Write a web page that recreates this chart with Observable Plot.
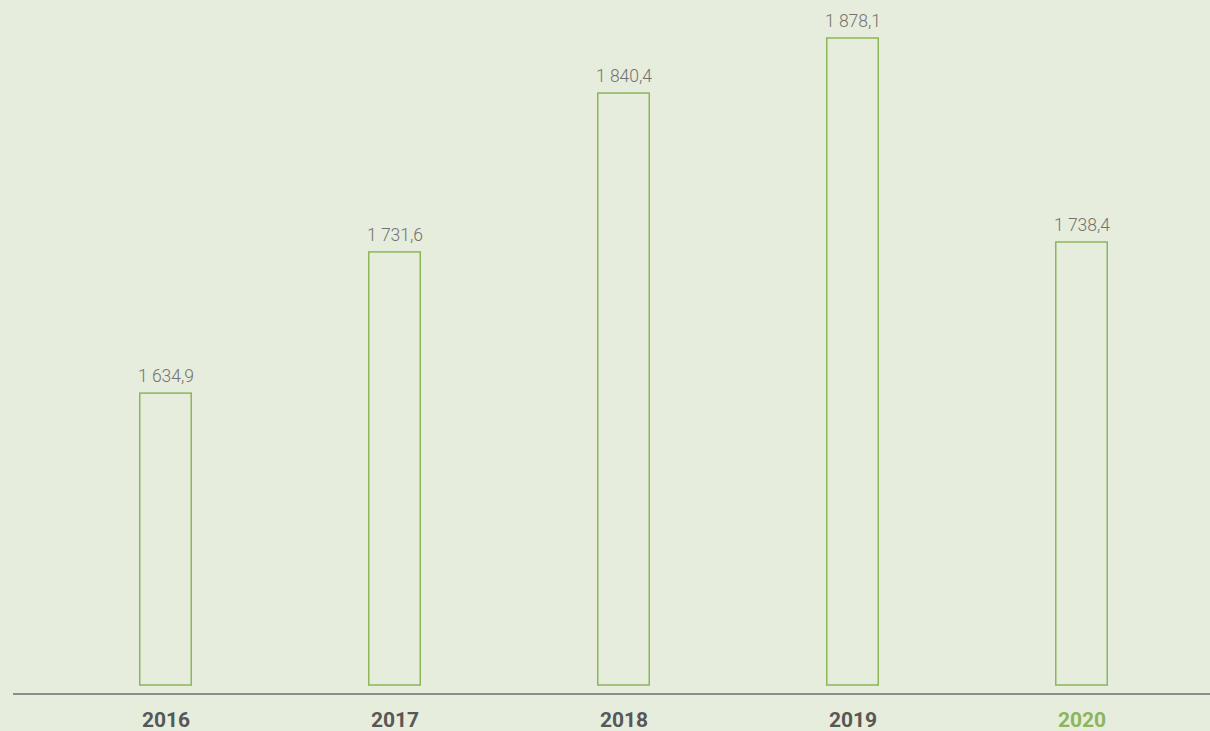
<!DOCTYPE html>
<html>
<head>
<meta charset="utf-8">
<script src="https://cdn.jsdelivr.net/npm/d3@7"></script>
<script src="https://cdn.jsdelivr.net/npm/@observablehq/plot@0.6"></script>
<style>
  html, body { margin: 0; padding: 0; background: #E6EDDC; }
  #chart svg { display: block; background: #E6EDDC; }
</style>
</head>
<body>
<div id="chart"></div>
<script>
const years = ["2016", "2017", "2018", "2019", "2020"];
const values = [1634.9, 1731.6, 1840.4, 1878.1, 1738.4];
const labels = ["1 634,9", "1 731,6", "1 840,4", "1 878,1", "1 738,4"];
const highlightYear = "2020";
const yBase = 1435;

const data = years.map((y, i) => ({year: y, value: values[i], label: labels[i]}));

const green = "#8DB55A";
const chart = Plot.plot({
  width: 1210,
  height: 731,
  marginLeft: 51,
  marginRight: 14,
  marginTop: 38,
  marginBottom: 46,
  style: {background: "#E6EDDC", fontFamily: "Roboto, sans-serif"},
  x: {domain: years, paddingInner: 0.7686, paddingOuter: 0.3843, axis: null},
  y: {domain: [yBase, d3.max(values)], axis: null},
  marks: [
    Plot.barY(data, {x: "year", y1: () => yBase, y2: "value", fill: "none", stroke: green, strokeWidth: 1.5, insetLeft: 0.75, insetRight: 0.75}),
    Plot.text(data, {x: "year", y: "value", text: "label", dy: -17, fontSize: 17.5, fontWeight: 300, fill: "#727272"}),
    Plot.ruleY([yBase], {dy: 8.5, stroke: "#8c8c8c", strokeWidth: 2, insetLeft: -38, insetRight: -14}),
    Plot.text(data, {x: "year", frameAnchor: "bottom", text: "year", dy: 41, fontSize: 21, fontWeight: 700,
      fill: d => d.year === highlightYear ? green : "#575757"})
  ]
});
document.getElementById("chart").appendChild(chart);
</script>
</body>
</html>
